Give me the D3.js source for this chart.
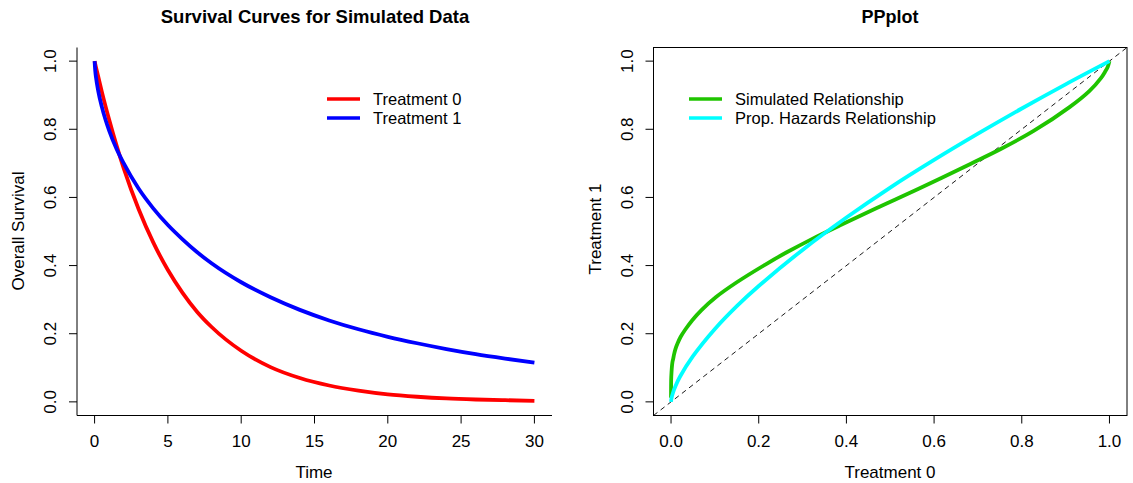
<!DOCTYPE html>
<html>

<head>
    <meta charset="utf-8" />
    <title>Survival Curves and PPplot</title>
    <script src="https://d3js.org/d3.v7.min.js"></script>
    <style>
        body { margin: 0; background: #fff; }
        svg text { font-family: "Liberation Sans", Arial, Helvetica, sans-serif; fill: #000; }
    </style>
</head>

<body>
    <script type="text/javascript">
        // survival curves
        var times = [0, 0.05, 0.1, 0.25, 0.5, 1, 1.5, 2, 3, 4, 5, 6, 7, 8, 10, 12, 14, 16, 18, 20, 22, 24, 26, 28, 30];
        var surv0 = [1, 0.990, 0.981, 0.954, 0.909, 0.827, 0.752, 0.684, 0.566, 0.468, 0.387, 0.320, 0.264, 0.219,
            0.150, 0.102, 0.070, 0.048, 0.033, 0.022, 0.015, 0.010, 0.007, 0.005, 0.003];
        var surv1 = [1, 0.969, 0.951, 0.912, 0.865, 0.795, 0.742, 0.699, 0.626, 0.568, 0.519, 0.477, 0.439, 0.406,
            0.351, 0.307, 0.270, 0.239, 0.213, 0.191, 0.172, 0.155, 0.140, 0.127, 0.115];

        // PP plot: simulated relationship (treatment 0 vs treatment 1)
        var simX = [1, 0.996, 0.990, 0.981, 0.954, 0.909, 0.827, 0.752, 0.684, 0.566, 0.468, 0.387, 0.320, 0.264, 0.219,
            0.150, 0.102, 0.070, 0.048, 0.033, 0.022, 0.015, 0.010, 0.007, 0.005, 0.003, 0.0005, 0.0001, 0, 0];
        var simY = [1, 0.983, 0.969, 0.951, 0.912, 0.865, 0.795, 0.742, 0.699, 0.626, 0.568, 0.519, 0.477, 0.439, 0.406,
            0.351, 0.307, 0.270, 0.239, 0.213, 0.191, 0.172, 0.155, 0.140, 0.127, 0.115, 0.073, 0.048, 0.023, 0.012];
        // proportional hazards relationship
        var phX = [0, 0.001, 0.005, 0.01, 0.02, 0.05, 0.1, 0.15, 0.2, 0.3, 0.4, 0.5, 0.6, 0.7, 0.8, 0.9, 1];
        var phY = [0, 0.010, 0.029, 0.046, 0.073, 0.134, 0.214, 0.281, 0.340, 0.446, 0.541, 0.629, 0.710, 0.787, 0.861, 0.932, 1];

        var timeTicks = [0, 5, 10, 15, 20, 25, 30];
        var probTicks = [0, 0.2, 0.4, 0.6, 0.8, 1];

        var width = 1133, height = 483;
        var svg = d3.select('body').append('svg')
            .attr('width', width)
            .attr('height', height);

        var fs = 17;

        function zip(xs, ys) {
            return xs.map(function (x, i) { return [x, ys[i]]; });
        }

        function drawAxes(g, x, y, xTicks, yTicks, xFmt) {
            var x0 = x.range()[0];
            var y0 = y.range()[0];
            // bottom axis
            g.selectAll('.xt').data(xTicks).enter().append('line')
                .attr('x1', d => x(d)).attr('x2', d => x(d))
                .attr('y1', y0).attr('y2', y0 + 8)
                .attr('stroke', '#000');
            g.selectAll('.xl').data(xTicks).enter().append('text')
                .attr('x', d => x(d)).attr('y', y0 + 31)
                .attr('text-anchor', 'middle')
                .style('font-size', fs + 'px')
                .text(xFmt);
            // left axis
            g.selectAll('.yt').data(yTicks).enter().append('line')
                .attr('x1', x0).attr('x2', x0 - 8)
                .attr('y1', d => y(d)).attr('y2', d => y(d))
                .attr('stroke', '#000');
            g.selectAll('.yl').data(yTicks).enter().append('text')
                .attr('transform', d => 'translate(' + (x0 - 21) + ',' + y(d) + ') rotate(-90)')
                .attr('text-anchor', 'middle')
                .style('font-size', fs + 'px')
                .text(d3.format('.1f'));
        }

        function legend(g, x0, y0, items) {
            items.forEach(function (it, i) {
                var yy = y0 + i * 19;
                g.append('line')
                    .attr('x1', x0).attr('x2', x0 + 33)
                    .attr('y1', yy).attr('y2', yy)
                    .attr('stroke', it.color).attr('stroke-width', 3.5);
                g.append('text')
                    .attr('x', x0 + 46).attr('y', yy + 6)
                    .style('font-size', '16.5px')
                    .text(it.label);
            });
        }

        // ---------- left panel ----------
        var left = svg.append('g');
        var xT = d3.scaleLinear().domain([-1.2, 31.2]).range([77, 552]);
        var yS = d3.scaleLinear().domain([-0.04, 1.04]).range([415.5, 47.5]);

        left.append('path')
            .attr('d', 'M77,' + yS.range()[1] + 'V415.5H552')
            .attr('fill', 'none').attr('stroke', '#000');
        drawAxes(left, xT, yS, timeTicks, probTicks, d3.format('d'));

        var lineT = d3.line().x(d => xT(d[0])).y(d => yS(d[1])).curve(d3.curveMonotoneX);
        left.append('path').datum(zip(times, surv0))
            .attr('d', lineT).attr('fill', 'none')
            .attr('stroke', '#ff0000').attr('stroke-width', 3.8);
        left.append('path').datum(zip(times, surv1))
            .attr('d', lineT).attr('fill', 'none')
            .attr('stroke', '#0000ff').attr('stroke-width', 3.8);

        left.append('text').attr('x', 315).attr('y', 23)
            .attr('text-anchor', 'middle')
            .style('font-size', '18.5px').style('font-weight', 'bold')
            .text('Survival Curves for Simulated Data');
        left.append('text').attr('x', 314).attr('y', 478)
            .attr('text-anchor', 'middle').style('font-size', fs + 'px')
            .text('Time');
        left.append('text')
            .attr('transform', 'translate(24,231) rotate(-90)')
            .attr('text-anchor', 'middle').style('font-size', fs + 'px')
            .text('Overall Survival');

        legend(left, 327, 99, [
            { label: 'Treatment 0', color: '#ff0000' },
            { label: 'Treatment 1', color: '#0000ff' }
        ]);

        // ---------- right panel ----------
        var right = svg.append('g');
        var xP = d3.scaleLinear().domain([-0.04, 1.04]).range([653.5, 1127]);
        var yP = d3.scaleLinear().domain([-0.04, 1.04]).range([415.5, 47.5]);

        right.append('rect')
            .attr('x', 653.5).attr('y', 47.5)
            .attr('width', 1127 - 653.5).attr('height', 415.5 - 47.5)
            .attr('fill', 'none').attr('stroke', '#000');
        drawAxes(right, xP, yP, probTicks, probTicks, d3.format('.1f'));

        // reference line y = x
        right.append('line')
            .attr('x1', xP(-0.04)).attr('y1', yP(-0.04))
            .attr('x2', xP(1.04)).attr('y2', yP(1.04))
            .attr('stroke', '#000').attr('stroke-width', 0.9)
            .attr('stroke-dasharray', '5,4');

        var lineP = d3.line().x(d => xP(d[0])).y(d => yP(d[1])).curve(d3.curveCatmullRom.alpha(0.5));
        right.append('path').datum(zip(simX, simY))
            .attr('d', lineP).attr('fill', 'none')
            .attr('stroke', '#1fc400').attr('stroke-width', 3.8);
        right.append('path').datum(zip(phX, phY))
            .attr('d', lineP).attr('fill', 'none')
            .attr('stroke', '#00ffff').attr('stroke-width', 3.8);

        right.append('text').attr('x', 890).attr('y', 23)
            .attr('text-anchor', 'middle')
            .style('font-size', '18px').style('font-weight', 'bold')
            .text('PPplot');
        right.append('text').attr('x', 890).attr('y', 478)
            .attr('text-anchor', 'middle').style('font-size', fs + 'px')
            .text('Treatment 0');
        right.append('text')
            .attr('transform', 'translate(601,229) rotate(-90)')
            .attr('text-anchor', 'middle').style('font-size', fs + 'px')
            .text('Treatment 1');

        legend(right, 689, 99, [
            { label: 'Simulated Relationship', color: '#1fc400' },
            { label: 'Prop. Hazards Relationship', color: '#00ffff' }
        ]);
    </script>
</body>

</html>
